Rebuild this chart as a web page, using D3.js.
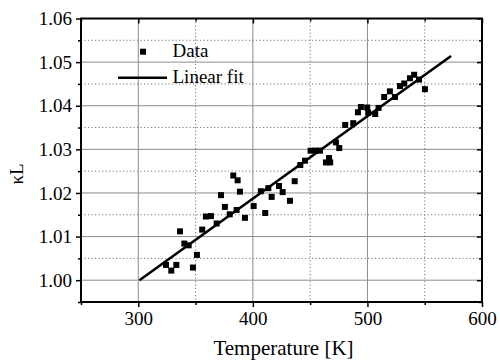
<!DOCTYPE html>
<html><head><meta charset="utf-8">
<script src="https://cdn.jsdelivr.net/npm/d3@7"></script>
<style>body{margin:0;background:#fff}svg{display:block}svg text{font-family:'Liberation Serif','Times New Roman',serif !important}</style>
</head><body>
<svg id="c" width="500" height="362"></svg>
<script>
const dataT = [324.2,328.8,333.2,336.4,340.2,344.0,347.7,351.2,355.8,359.0,363.4,368.4,372.2,375.6,379.8,382.9,386.7,388.7,385.8,393.1,400.7,407.0,410.8,413.5,416.4,422.8,426.0,432.4,436.5,441.4,445.5,450.4,454.8,458.6,463.8,467.5,466.5,472.5,475.4,480.6,487.6,491.7,494.3,499.8,500.7,506.8,509.7,514.6,519.6,524.0,528.4,532.1,537.1,540.8,545.0,550.2];
const dataK = [1.0035,1.0022,1.0035,1.0112,1.0084,1.0080,1.0029,1.0058,1.0116,1.0146,1.0147,1.0130,1.0195,1.0168,1.0151,1.0240,1.0229,1.0203,1.0161,1.0143,1.0170,1.0204,1.0154,1.0211,1.0191,1.0216,1.0202,1.0182,1.0227,1.0264,1.0274,1.0297,1.0297,1.0297,1.0270,1.0270,1.0280,1.0316,1.0303,1.0356,1.0360,1.0385,1.0397,1.0396,1.0384,1.0381,1.0395,1.0420,1.0433,1.0420,1.0445,1.0451,1.0463,1.0471,1.0460,1.0438];
const fitT = [301, 573];
const fitK = [1.0000, 1.0514];
const xMajor = [300,400,500,600];
const xMinor = [250,350,450,550];
const yMajor = [1.00,1.01,1.02,1.03,1.04,1.05,1.06];
const yMinor = [0.995,1.005,1.015,1.025,1.035,1.045,1.055];
const xTickLabels = ["300","400","500","600"];
const yTickLabels = ["1.00","1.01","1.02","1.03","1.04","1.05","1.06"];
const legendLabels = ["Data","Linear fit"];
const xTitle = "Temperature [K]";
const yTitle = "κL";

const L=81,R=482,T=18.5,B=302;
const svg=d3.select("#c");
const x=d3.scaleLinear([250,600],[L,R]);
const y=d3.scaleLinear([0.995,1.06],[B,T]);
const font="'Liberation Serif','Times New Roman',serif";

// grid
const g=svg.append("g");
g.selectAll(".gx").data(xMajor.filter(v=>v<600)).join("line")
 .attr("x1",d=>x(d)).attr("x2",d=>x(d)).attr("y1",T).attr("y2",B)
 .attr("stroke","#8c8c8c").attr("stroke-width",1);
g.selectAll(".gy").data(yMajor.filter(v=>v<1.06)).join("line")
 .attr("y1",d=>y(d)).attr("y2",d=>y(d)).attr("x1",L).attr("x2",R)
 .attr("stroke","#8c8c8c").attr("stroke-width",1);
g.selectAll(".mx").data(xMinor.filter(v=>v>250)).join("line")
 .attr("x1",d=>x(d)).attr("x2",d=>x(d)).attr("y1",T).attr("y2",B)
 .attr("stroke","#777").attr("stroke-width",1).attr("stroke-dasharray","1.2,2.3");
g.selectAll(".my").data(yMinor.filter(v=>v>0.995)).join("line")
 .attr("y1",d=>y(d)).attr("y2",d=>y(d)).attr("x1",L).attr("x2",R)
 .attr("stroke","#777").attr("stroke-width",1).attr("stroke-dasharray","1.2,2.3");

// fit line
svg.append("path").datum(fitT.map((t,i)=>[t,fitK[i]]))
 .attr("d",d3.line().x(d=>x(d[0])).y(d=>y(d[1])))
 .attr("stroke","#000").attr("stroke-width",2.6).attr("fill","none");

// points
const S=6;
svg.append("g").selectAll("rect").data(dataT.map((t,i)=>[t,dataK[i]])).join("rect")
 .attr("x",d=>x(d[0])-S/2).attr("y",d=>y(d[1])-S/2).attr("width",S).attr("height",S).attr("fill","#000");

// axes
function styleAxis(sel){
  sel.attr("font-family",font).attr("font-size",19);
  sel.select(".domain").remove();
  sel.selectAll("line").attr("stroke","#000").attr("stroke-width",1.5);
  sel.selectAll("text").attr("font-family",font).attr("font-size",19).attr("fill","#000");
}
const fx=d=>xTickLabels[xMajor.indexOf(d)];
const fy=d=>yTickLabels[yMajor.indexOf(d)];
svg.append("g").attr("transform",`translate(0,${B})`).call(d3.axisBottom(x).tickValues(xMajor).tickFormat(fx).tickSize(5).tickPadding(5)).call(styleAxis);
svg.append("g").attr("transform",`translate(0,${B})`).call(d3.axisBottom(x).tickValues(xMinor).tickFormat("").tickSize(3)).call(styleAxis);
svg.append("g").attr("transform",`translate(${L},0)`).call(d3.axisLeft(y).tickValues(yMajor).tickFormat(fy).tickSize(5).tickPadding(4)).call(styleAxis);
svg.append("g").attr("transform",`translate(${L},0)`).call(d3.axisLeft(y).tickValues(yMinor).tickFormat("").tickSize(3)).call(styleAxis);
svg.append("g").attr("transform",`translate(0,${T})`).call(d3.axisTop(x).tickValues(xMajor).tickFormat("").tickSize(-5)).call(styleAxis);
svg.append("g").attr("transform",`translate(0,${T})`).call(d3.axisTop(x).tickValues(xMinor).tickFormat("").tickSize(-3)).call(styleAxis);
svg.append("g").attr("transform",`translate(${R},0)`).call(d3.axisRight(y).tickValues(yMajor).tickFormat("").tickSize(-5)).call(styleAxis);
svg.append("g").attr("transform",`translate(${R},0)`).call(d3.axisRight(y).tickValues(yMinor).tickFormat("").tickSize(-3)).call(styleAxis);

// frame
svg.append("rect").attr("x",L).attr("y",T).attr("width",R-L).attr("height",B-T)
 .attr("fill","none").attr("stroke","#000").attr("stroke-width",2);

// legend
svg.append("rect").attr("x",143-S/2).attr("y",51.7-S/2).attr("width",S).attr("height",S).attr("fill","#000");
svg.append("line").attr("x1",118).attr("x2",167).attr("y1",77.7).attr("y2",77.7).attr("stroke","#000").attr("stroke-width",2.6);
svg.append("text").attr("x",172.5).attr("y",57.3).text(legendLabels[0]).attr("font-family",font).attr("font-size",19);
svg.append("text").attr("x",172.5).attr("y",83.3).text(legendLabels[1]).attr("font-family",font).attr("font-size",19);

// titles
svg.append("text").attr("x",283.5).attr("y",355).attr("text-anchor","middle").text(xTitle).attr("font-family",font).attr("font-size",21);
svg.append("text").attr("transform","translate(22.5,174) rotate(-90)").attr("text-anchor","middle").text(yTitle).attr("font-family",font).attr("font-size",19);
</script>
</body></html>
